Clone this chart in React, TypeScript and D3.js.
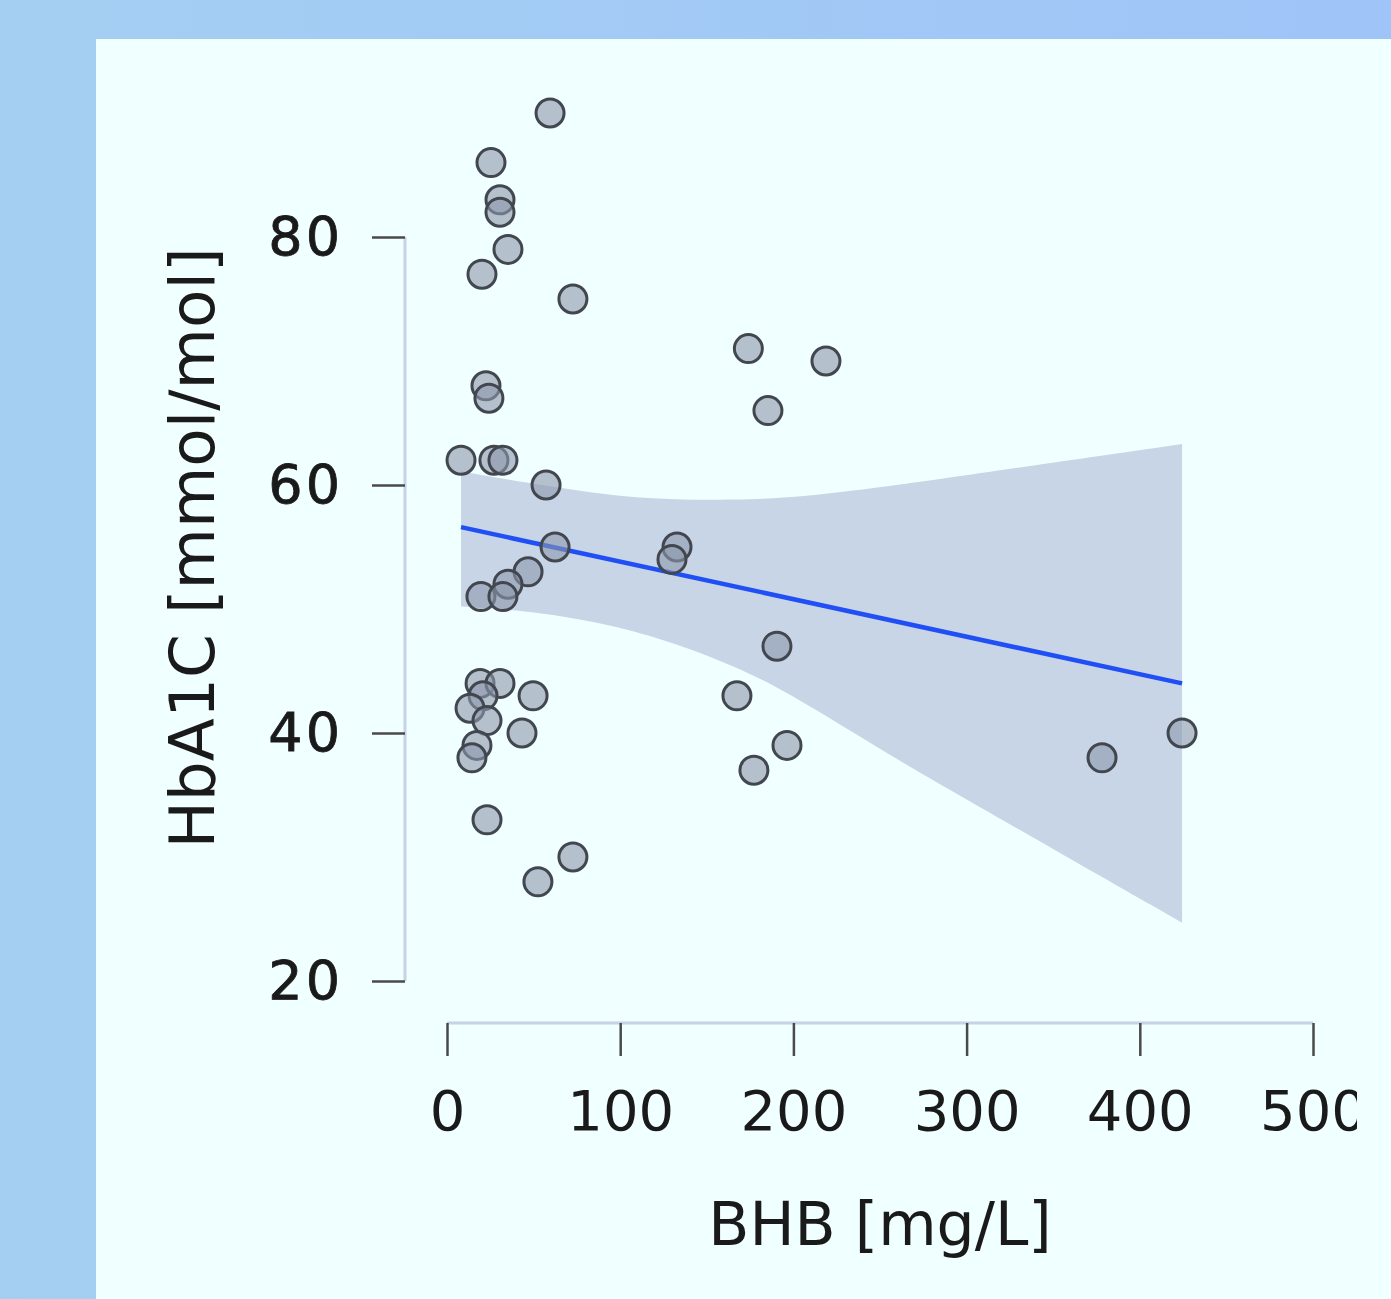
import React, { useEffect, useRef } from "react";
import * as d3 from "d3";

// BHB [mg/L] and HbA1C [mmol/mol]
const bhb = [
  59.5, 25.4, 30.6, 30.6, 35.2, 20.2, 72.7, 22.5, 24.2, 8.1, 27.1, 32.3, 57.2, 62.4,
  46.8, 35.2, 19.6, 32.3, 174.0, 218.8, 185.3, 132.8, 129.9, 190.5, 167.4, 196.3,
  177.2, 378.2, 424.4, 19.1, 30.6, 20.8, 13.3, 23.1, 17.3, 14.4, 49.7, 43.3, 23.1,
  72.7, 52.5,
];
const hba1c = [
  90, 86, 83, 82, 79, 77, 75, 68, 67, 62, 62, 62, 60, 55, 53, 52, 51, 51, 71, 70, 66,
  55, 54, 47, 43, 39, 37, 38, 40, 44, 44, 43, 42, 41, 39, 38, 43, 40, 33, 30, 28,
];

// fitted line and its confidence band
const fitX = [8.1, 424.4];
const fitY = [56.6, 44.0];
const bandX = [8.1, 53.7, 111.4, 169.2, 203.8, 261.5, 319.3, 424.4];
const bandHigh = [61.1, 60.0, 58.8, 58.8, 59.0, 60.0, 61.2, 63.3];
const bandLow = [50.2, 49.8, 48.3, 45.3, 42.7, 37.7, 33.1, 24.7];

const xTicks = [0, 100, 200, 300, 400, 500];
const yTicks = [20, 40, 60, 80];

const App = () => {
  const svgRef = useRef<SVGSVGElement>(null);

  useEffect(() => {
    document.body.style.margin = "0";
    const width = 1391;
    const height = 1299;

    const svg = d3.select(svgRef.current).attr("width", width).attr("height", height);
    svg.selectAll("*").remove();

    const defs = svg.append("defs");
    const grad = defs.append("linearGradient").attr("id", "bg").attr("x1", "0").attr("x2", "1");
    grad.append("stop").attr("offset", "0").attr("stop-color", "#a4cff2");
    grad.append("stop").attr("offset", "1").attr("stop-color", "#9fc4f8");
    defs.append("clipPath").attr("id", "clip")
      .append("rect").attr("x", 0).attr("y", 0).attr("width", 1357).attr("height", height);

    svg.append("rect").attr("width", width).attr("height", height).attr("fill", "url(#bg)");
    svg.append("rect").attr("x", 96).attr("y", 39).attr("width", width - 96).attr("height", height - 39)
      .attr("fill", "#f0ffff");

    const g = svg.append("g").attr("clip-path", "url(#clip)");

    const x = d3.scaleLinear().domain([0, 500]).range([447, 1313]);
    const y = d3.scaleLinear().domain([20, 80]).range([981, 237]);

    const band = bandX.map((v, i) => ({ x: v, lo: bandLow[i], hi: bandHigh[i] }));
    g.append("path")
      .datum(band)
      .attr("d", d3.area<any>().x((d) => x(d.x)).y0((d) => y(d.lo)).y1((d) => y(d.hi))
        .curve(d3.curveBasis))
      .attr("fill", "#c8d5e6");

    const fit = fitX.map((v, i) => ({ x: v, y: fitY[i] }));
    g.append("path")
      .datum(fit)
      .attr("d", d3.line<any>().x((d) => x(d.x)).y((d) => y(d.y)))
      .attr("fill", "none")
      .attr("stroke", "#1f4ff5")
      .attr("stroke-width", 4.5);

    const pts = bhb.map((v, i) => ({ x: v, y: hba1c[i] }));
    g.selectAll("circle.pt")
      .data(pts)
      .join("circle")
      .attr("class", "pt")
      .attr("cx", (d) => x(d.x))
      .attr("cy", (d) => y(d.y))
      .attr("r", 14)
      .attr("fill", "rgba(140,152,172,0.6)")
      .attr("stroke", "#42474f")
      .attr("stroke-width", 3);

    // y axis
    g.append("line").attr("x1", 405).attr("x2", 405).attr("y1", y(80)).attr("y2", y(20))
      .attr("stroke", "#c6d2e6").attr("stroke-width", 3);
    const yAxis = g.append("g").attr("transform", "translate(405,0)")
      .call(d3.axisLeft(y).tickValues(yTicks).tickSize(33).tickPadding(29));
    yAxis.select(".domain").remove();
    yAxis.selectAll(".tick line").attr("stroke", "#4a4a4a").attr("stroke-width", 2.5);
    yAxis.selectAll(".tick text").attr("font-family", "DejaVu Sans").attr("font-size", 54)
      .attr("letter-spacing", 3).attr("fill", "#1a1a1a")
      .attr("stroke", "#1a1a1a").attr("stroke-width", 0.8);

    // x axis
    g.append("line").attr("x1", x(0)).attr("x2", x(500)).attr("y1", 1023).attr("y2", 1023)
      .attr("stroke", "#c6d2e6").attr("stroke-width", 3);
    const xAxis = g.append("g").attr("transform", "translate(0,1023)")
      .call(d3.axisBottom(x).tickValues(xTicks).tickSize(33).tickPadding(34));
    xAxis.select(".domain").remove();
    xAxis.selectAll(".tick line").attr("stroke", "#4a4a4a").attr("stroke-width", 2.5);
    xAxis.selectAll(".tick text").attr("font-family", "DejaVu Sans").attr("font-size", 56)
      .attr("fill", "#1a1a1a");

    g.append("text")
      .attr("x", 880).attr("y", 1245)
      .attr("text-anchor", "middle")
      .attr("font-family", "DejaVu Sans").attr("font-size", 60).attr("fill", "#1a1a1a")
      .text("BHB [mg/L]");

    g.append("text")
      .attr("transform", "translate(214,548) rotate(-90)")
      .attr("text-anchor", "middle")
      .attr("font-family", "DejaVu Sans").attr("font-size", 63).attr("fill", "#1a1a1a")
      .text("HbA1C [mmol/mol]");
  }, []);

  return <svg ref={svgRef}></svg>;
};

export default App;
